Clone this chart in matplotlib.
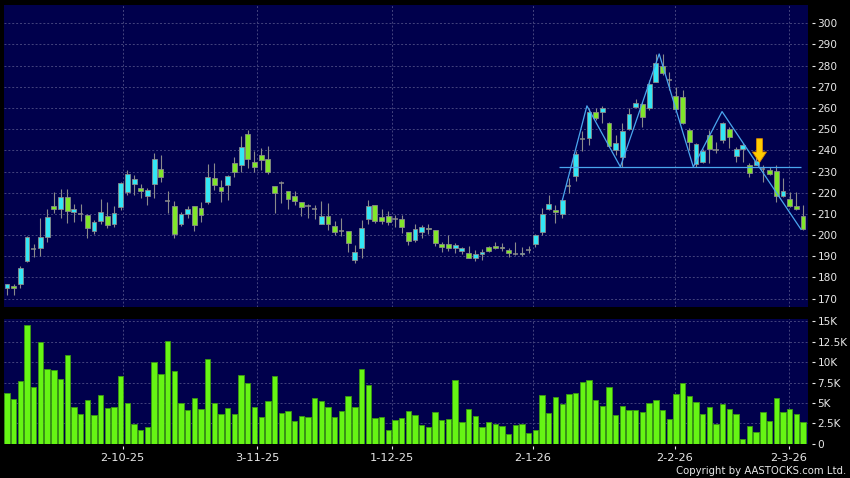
import matplotlib
matplotlib.use('Agg')
import matplotlib.pyplot as plt
from matplotlib.ticker import FuncFormatter

# daily candles
opens = [175.1, 176.2, 176.7, 187.9, 193.5, 193.7, 198.9, 213.7, 212.1, 217.8,
         211.0, 209.8, 209.3, 201.7, 206.8, 209.0, 205.4, 213.1, 220.2, 224.0,
         222.1, 218.6, 224.0, 231.1, 215.9, 213.7, 205.4, 209.8, 213.6, 212.9,
         215.8, 226.8, 222.6, 223.8, 234.2, 233.0, 247.6, 234.4, 237.7, 235.8,
         223.2, 224.5, 221.0, 218.6, 215.8, 213.6, 212.5, 205.2, 209.0, 204.3,
         202.1, 201.7, 188.3, 193.7, 207.7, 214.2, 208.4, 209.0, 207.4, 207.4,
         201.3, 197.5, 201.3, 203.4, 202.6, 196.0, 196.0, 193.8, 192.3, 191.5,
         189.0, 190.9, 194.2, 195.0, 194.5, 193.0, 191.2, 191.0, 192.8, 195.6,
         201.5, 212.2, 211.7, 210.0, 223.4, 228.0, 245.3, 245.8, 258.0, 258.1,
         252.8, 240.2, 236.7, 250.0, 260.6, 261.9, 259.8, 272.4, 279.8, 273.2,
         265.8, 265.0, 249.6, 233.4, 234.6, 247.2, 240.2, 244.9, 249.9, 237.3,
         240.5, 233.1, 233.1, 231.0, 230.7, 230.1, 218.6, 216.9, 213.9, 208.8]
highs = [177.1, 177.1, 185.5, 199.5, 195.7, 207.9, 212.3, 220.2, 221.8, 221.8,
         214.5, 214.7, 209.8, 206.9, 217.0, 215.5, 213.7, 225.1, 230.8, 228.4,
         224.0, 222.1, 238.6, 237.9, 220.8, 216.1, 211.0, 213.7, 213.7, 215.5,
         233.6, 233.9, 226.0, 228.4, 236.8, 246.8, 249.7, 239.7, 241.0, 242.1,
         223.3, 225.4, 221.0, 220.8, 215.8, 214.7, 214.2, 216.1, 215.0, 206.6,
         208.2, 201.7, 195.3, 207.1, 216.6, 214.2, 212.1, 211.4, 209.5, 209.5,
         201.6, 205.1, 204.8, 205.1, 202.6, 196.9, 200.1, 196.1, 194.5, 195.0,
         192.8, 193.4, 195.0, 196.6, 196.1, 193.8, 196.6, 194.5, 195.0, 200.4,
         212.7, 219.0, 214.3, 217.7, 226.9, 239.5, 249.0, 260.0, 260.0, 260.8,
         253.5, 247.2, 252.8, 259.8, 264.1, 263.0, 273.2, 285.5, 285.5, 277.2,
         269.8, 268.5, 250.4, 243.6, 240.5, 249.6, 244.1, 253.5, 251.2, 241.7,
         243.3, 234.2, 237.0, 233.1, 232.3, 232.9, 226.8, 220.5, 220.5, 214.2]
lows = [171.9, 171.6, 175.2, 187.4, 189.7, 190.2, 196.8, 210.3, 207.9, 205.8,
        206.3, 206.6, 198.7, 200.3, 205.2, 203.2, 203.9, 211.8, 218.9, 218.9,
        217.4, 214.2, 217.4, 224.9, 210.3, 198.7, 204.1, 208.2, 201.9, 206.3,
        214.7, 221.3, 215.8, 216.6, 227.6, 230.0, 231.9, 230.0, 230.8, 228.7,
        210.6, 215.2, 212.1, 214.2, 209.1, 208.2, 207.6, 205.2, 202.4, 200.0,
        199.5, 192.1, 186.9, 189.3, 205.4, 205.8, 205.0, 204.7, 203.9, 200.8,
        195.3, 196.9, 198.5, 200.7, 195.0, 192.2, 192.5, 191.4, 190.9, 189.0,
        187.8, 188.2, 192.2, 193.3, 192.5, 189.8, 190.6, 190.3, 191.4, 194.5,
        200.1, 211.9, 205.6, 208.3, 220.1, 225.6, 239.5, 242.3, 254.5, 252.9,
        241.7, 237.8, 232.3, 249.6, 259.8, 251.2, 259.1, 272.4, 275.6, 268.5,
        259.1, 252.4, 240.2, 232.3, 233.9, 233.9, 238.6, 243.6, 240.9, 234.6,
        234.6, 227.6, 233.1, 225.2, 228.3, 215.7, 218.1, 213.1, 211.8, 202.4]
closes = [176.7, 175.1, 184.7, 198.9, 193.5, 198.9, 208.4, 212.1, 217.8, 211.2,
          212.1, 209.8, 203.2, 206.4, 211.0, 204.6, 210.6, 224.4, 229.0, 226.3,
          220.7, 221.1, 235.8, 227.6, 215.9, 200.3, 209.8, 212.1, 204.6, 209.3,
          227.6, 223.7, 220.7, 227.9, 229.7, 241.8, 235.8, 232.3, 235.6, 229.7,
          220.0, 224.5, 216.9, 216.1, 213.2, 213.6, 212.5, 209.1, 205.0, 201.6,
          202.1, 196.4, 192.0, 203.2, 213.7, 206.8, 206.8, 206.3, 207.4, 203.6,
          197.4, 202.7, 203.7, 203.0, 196.3, 194.2, 193.8, 195.5, 193.8, 189.0,
          191.2, 191.8, 192.5, 193.8, 193.8, 191.4, 191.2, 191.7, 192.8, 199.9,
          209.8, 214.7, 210.9, 216.5, 223.4, 238.2, 245.3, 258.0, 255.3, 260.0,
          242.2, 243.6, 249.0, 257.0, 262.5, 255.9, 271.2, 281.1, 276.7, 273.2,
          259.4, 252.8, 243.8, 242.8, 239.7, 240.6, 240.2, 252.8, 246.5, 240.5,
          242.4, 229.4, 234.8, 231.0, 228.8, 218.4, 220.9, 213.7, 212.1, 202.7]
# volume, thousands of shares
volumes = [6.19, 5.53, 7.66, 14.55, 6.93, 12.46, 9.18, 9.02, 7.99, 10.9,
           4.51, 3.69, 5.41, 3.53, 5.98, 4.34, 4.47, 8.32, 5.0, 2.46,
           1.68, 2.0, 10.0, 8.49, 12.59, 8.94, 5.0, 4.1, 5.58, 4.22,
           10.41, 4.96, 3.65, 4.43, 3.69, 8.4, 7.42, 4.55, 3.24, 5.2,
           8.32, 3.77, 4.06, 2.83, 3.4, 3.24, 5.62, 5.29, 4.47, 3.32,
           4.02, 5.9, 4.55, 9.18, 7.22, 3.12, 3.24, 1.72, 2.95, 3.16,
           3.98, 3.57, 2.26, 2.05, 3.94, 2.95, 2.99, 7.75, 2.62, 4.22,
           3.4, 2.05, 2.71, 2.38, 2.13, 1.19, 2.3, 2.42, 1.35, 1.64,
           6.03, 3.81, 5.7, 4.84, 6.11, 6.27, 7.54, 7.79, 5.41, 4.59,
           6.89, 3.53, 4.63, 4.14, 4.18, 3.85, 5.0, 5.37, 4.18, 3.08,
           6.07, 7.42, 5.9, 5.12, 3.61, 4.51, 2.46, 4.84, 4.26, 3.65,
           0.53, 2.17, 1.48, 3.94, 2.75, 5.58, 3.85, 4.31, 3.69, 2.67]

date_labels = ['2-10-25', '3-11-25', '1-12-25', '2-1-26', '2-2-26', '2-3-26']
date_pos = [17.3, 37.4, 57.5, 78.6, 99.8, 116.9]

# pattern lines drawn over the candles
zigzag_x = [83.0, 86.7, 91.7, 97.5, 102.6, 106.9, 118.7]
zigzag_y = [216.2, 261.0, 232.2, 285.5, 232.2, 258.3, 202.7]
neck_x = [82.5, 118.7]
neck_y = 232.2
arrow_x = 112.5
arrow_top, arrow_tip = 245.5, 234.3

up_col = '#33e6f5'
down_col = '#80e62a'
edge_col = '#8a8a8a'
grid_col = '#44447e'
txt_col = '#e8e8e8'
bg = '#00004c'

fig = plt.figure(figsize=(8.5, 4.78), dpi=100, facecolor='black')
ax1 = fig.add_axes([4 / 850, 1 - 306.7 / 478, 804 / 850, 301.7 / 478])
ax2 = fig.add_axes([4 / 850, 1 - 443.7 / 478, 804 / 850, 124.4 / 478])

n = len(opens)
xs = list(range(n))

# candles
ax1.vlines(xs, lows, highs, color=edge_col, lw=0.8, zorder=2)
for i in xs:
    o, c = opens[i], closes[i]
    if o == c:
        ax1.hlines(o, i - 0.38, i + 0.38, color=edge_col, lw=1.1, zorder=3)
    else:
        ax1.bar(i, abs(c - o), width=0.72, bottom=min(o, c),
                color=up_col if c > o else down_col,
                edgecolor=edge_col, linewidth=0.6, zorder=3)

ax1.plot(zigzag_x, zigzag_y, color='#4aa6ee', lw=0.9, zorder=4)
ax1.hlines(neck_y, neck_x[0], neck_x[1], color='#4aa6ee', lw=0.9, zorder=4)
ax1.annotate('', xy=(arrow_x, arrow_tip), xytext=(arrow_x, arrow_top),
             arrowprops=dict(arrowstyle='simple,head_width=1.0,head_length=0.75,tail_width=0.42',
                             fc='#ffcc00', ec='#e08a00', lw=0.6,
                             shrinkA=0, shrinkB=0), zorder=5)

# volume
ax2.bar(xs, volumes, width=0.8, color='#66f514', edgecolor='#3b9a12',
        linewidth=0.6, zorder=3)

for ax in (ax1, ax2):
    ax.set_facecolor(bg)
    ax.set_xlim(-0.45, n - 0.25)
    ax.set_xticks(date_pos)
    ax.grid(True, color=grid_col, linestyle=(0, (2, 2)), lw=0.7, zorder=0)
    ax.yaxis.tick_right()
    ax.tick_params(axis='y', colors=txt_col, labelsize=7.6, length=2,
                   width=0.8, pad=2)
    for s in ax.spines.values():
        s.set_color('none')
    ax.spines['right'].set_position(('outward', 2.8))

ax1.set_ylim(166.2, 308.6)
ax1.set_yticks(range(170, 301, 10))
ax1.tick_params(axis='x', length=0, labelbottom=False)

ax2.set_ylim(0, 15.25)
ax2.set_yticks([0, 2.5, 5, 7.5, 10, 12.5, 15])
ax2.yaxis.set_major_formatter(FuncFormatter(lambda v, p: '0' if v == 0 else f'{v:g}K'))
ax2.set_xticklabels(date_labels)
ax2.spines['bottom'].set_position(('outward', 1.6))
ax2.tick_params(axis='x', colors=txt_col, labelsize=8.2, length=2.2,
                width=0.8, pad=3)

fig.text(0.995, 1 - 471 / 478, 'Copyright by AASTOCKS.com Ltd.', color=txt_col,
         fontsize=7.3, ha='right', va='center')

fig.savefig('out.png', dpi=100, facecolor='black')
